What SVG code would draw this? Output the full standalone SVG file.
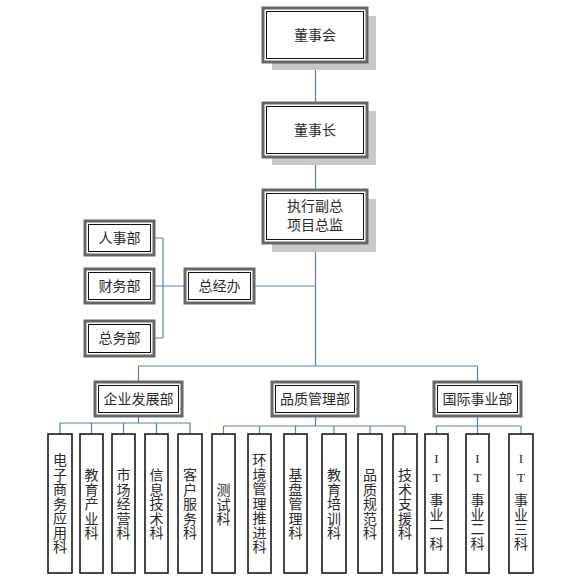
<svg xmlns="http://www.w3.org/2000/svg" width="584" height="586" viewBox="0 0 584 586">
<style>
.sh{fill:#c9c9c9;stroke:none}
.ob{fill:#fff;stroke:#666;stroke-width:3}
.ib{fill:none;stroke:#111;stroke-width:1}
.sb{fill:#fff;stroke:#1a1a1a;stroke-width:1.6}
.t{font-family:"Noto Sans CJK SC","Noto Sans",sans-serif;font-size:14px;fill:#2a2a2a;text-anchor:middle}
.l{font-family:"Liberation Serif",serif;font-size:13px;fill:#2a2a2a;text-anchor:middle}
.c{fill:none;stroke:#4F81BD;stroke-width:1.2}
</style>
<rect width="584" height="586" fill="#fff"/>
<g id="connectors">
<path class="c" d="M315.5 62V103M315.5 157V190M315.5 243V366"/>
<path class="c" d="M154 238H163M154 286H163M154 338H163M163 238V338M163 286H185M254 286H315.5"/>
<path class="c" d="M138.5 366H477.5M138.5 366V382M477.5 366V382"/>
<path class="c" d="M138.5 416V423M60 423H190M60 423V434M91.5 423V434M123.5 423V434M156.5 423V434M190 423V434"/>
<path class="c" d="M315.5 416V426M223.5 426H405M223.5 426V434M259.5 426V434M295.5 426V434M334 426V434M370 426V434M405 426V434"/>
<path class="c" d="M477.5 416V434M436.5 426H521M436.5 426V434M521 426V434"/>
</g>
<g id="dongshihui">
<rect class="sh" x="272" y="16" width="104" height="54"/>
<rect class="ob" x="263" y="8" width="104" height="54"/>
<rect class="ib" x="266.5" y="11.5" width="97" height="47"/>
<text class="t" x="315" y="40">董事会</text>
</g>
<g id="dongshizhang">
<rect class="sh" x="272" y="111" width="104" height="54"/>
<rect class="ob" x="263" y="103" width="104" height="54"/>
<rect class="ib" x="266.5" y="106.5" width="97" height="47"/>
<text class="t" x="315" y="135">董事长</text>
</g>
<g id="zhixing">
<rect class="sh" x="272" y="199" width="104" height="53"/>
<rect class="ob" x="263" y="190" width="104" height="53"/>
<rect class="ib" x="266.5" y="193.5" width="97" height="46"/>
<text class="t" x="315" y="211">执行副总</text>
<text class="t" x="315" y="230">项目总监</text>
</g>
<g id="renshibu">
<rect class="ob" x="85" y="221" width="69" height="34"/>
<rect class="ib" x="88.5" y="224.5" width="62" height="27"/>
<text class="t" x="119.5" y="243">人事部</text>
</g>
<g id="caiwubu">
<rect class="ob" x="85" y="269" width="69" height="34"/>
<rect class="ib" x="88.5" y="272.5" width="62" height="27"/>
<text class="t" x="119.5" y="291">财务部</text>
</g>
<g id="zongwubu">
<rect class="ob" x="85" y="321" width="69" height="35"/>
<rect class="ib" x="88.5" y="324.5" width="62" height="28"/>
<text class="t" x="119.5" y="343">总务部</text>
</g>
<g id="zongjingban">
<rect class="ob" x="185" y="269" width="69" height="34"/>
<rect class="ib" x="188.5" y="272.5" width="62" height="27"/>
<text class="t" x="219.5" y="291">总经办</text>
</g>
<g id="qiye">
<rect class="ob" x="95" y="382" width="87" height="34"/>
<rect class="ib" x="98.5" y="385.5" width="80" height="27"/>
<text class="t" x="138.5" y="404">企业发展部</text>
</g>
<g id="pinzhi">
<rect class="ob" x="272" y="382" width="86" height="34"/>
<rect class="ib" x="275.5" y="385.5" width="79" height="27"/>
<text class="t" x="315" y="404">品质管理部</text>
</g>
<g id="guoji">
<rect class="ob" x="434" y="382" width="87" height="34"/>
<rect class="ib" x="437.5" y="385.5" width="80" height="27"/>
<text class="t" x="477.5" y="404">国际事业部</text>
</g>
<g id="s1"><rect class="sb" x="48" y="434" width="24" height="139"/>
<text class="t" x="60" y="465">电</text><text class="t" x="60" y="479.5">子</text><text class="t" x="60" y="494">商</text><text class="t" x="60" y="508.5">务</text><text class="t" x="60" y="523">应</text><text class="t" x="60" y="537.5">用</text><text class="t" x="60" y="552">科</text></g>
<g id="s2"><rect class="sb" x="80" y="434" width="23" height="139"/>
<text class="t" x="91.5" y="480">教</text><text class="t" x="91.5" y="494.5">育</text><text class="t" x="91.5" y="509">产</text><text class="t" x="91.5" y="523.5">业</text><text class="t" x="91.5" y="538">科</text></g>
<g id="s3"><rect class="sb" x="112" y="434" width="23" height="139"/>
<text class="t" x="123.5" y="480">市</text><text class="t" x="123.5" y="494.5">场</text><text class="t" x="123.5" y="509">经</text><text class="t" x="123.5" y="523.5">营</text><text class="t" x="123.5" y="538">科</text></g>
<g id="s4"><rect class="sb" x="145" y="434" width="23" height="139"/>
<text class="t" x="156.5" y="480">信</text><text class="t" x="156.5" y="494.5">息</text><text class="t" x="156.5" y="509">技</text><text class="t" x="156.5" y="523.5">术</text><text class="t" x="156.5" y="538">科</text></g>
<g id="s5"><rect class="sb" x="178" y="434" width="24" height="139"/>
<text class="t" x="190" y="480">客</text><text class="t" x="190" y="494.5">户</text><text class="t" x="190" y="509">服</text><text class="t" x="190" y="523.5">务</text><text class="t" x="190" y="538">科</text></g>
<g id="s6"><rect class="sb" x="212" y="434" width="23" height="139"/>
<text class="t" x="223.5" y="495">测</text><text class="t" x="223.5" y="509.5">试</text><text class="t" x="223.5" y="524">科</text></g>
<g id="s7"><rect class="sb" x="248" y="434" width="23" height="139"/>
<text class="t" x="259.5" y="465">环</text><text class="t" x="259.5" y="479.5">境</text><text class="t" x="259.5" y="494">管</text><text class="t" x="259.5" y="508.5">理</text><text class="t" x="259.5" y="523">推</text><text class="t" x="259.5" y="537.5">进</text><text class="t" x="259.5" y="552">科</text></g>
<g id="s8"><rect class="sb" x="284" y="434" width="23" height="139"/>
<text class="t" x="295.5" y="480">基</text><text class="t" x="295.5" y="494.5">盘</text><text class="t" x="295.5" y="509">管</text><text class="t" x="295.5" y="523.5">理</text><text class="t" x="295.5" y="538">科</text></g>
<g id="s9"><rect class="sb" x="322" y="434" width="24" height="139"/>
<text class="t" x="334" y="480">教</text><text class="t" x="334" y="494.5">育</text><text class="t" x="334" y="509">培</text><text class="t" x="334" y="523.5">训</text><text class="t" x="334" y="538">科</text></g>
<g id="s10"><rect class="sb" x="358" y="434" width="24" height="139"/>
<text class="t" x="370" y="480">品</text><text class="t" x="370" y="494.5">质</text><text class="t" x="370" y="509">规</text><text class="t" x="370" y="523.5">范</text><text class="t" x="370" y="538">科</text></g>
<g id="s11"><rect class="sb" x="393" y="434" width="24" height="139"/>
<text class="t" x="405" y="480">技</text><text class="t" x="405" y="494.5">术</text><text class="t" x="405" y="509">支</text><text class="t" x="405" y="523.5">援</text><text class="t" x="405" y="538">科</text></g>
<g id="s12"><rect class="sb" x="425" y="434" width="23" height="139"/>
<text class="l" x="436.5" y="463">I</text><text class="l" x="436.5" y="482">T</text>
<text class="t" x="436.5" y="505">事</text><text class="t" x="436.5" y="519.5">业</text><text class="t" x="436.5" y="534">一</text><text class="t" x="436.5" y="548.5">科</text></g>
<g id="s13"><rect class="sb" x="466" y="434" width="23" height="139"/>
<text class="l" x="477.5" y="463">I</text><text class="l" x="477.5" y="482">T</text>
<text class="t" x="477.5" y="505">事</text><text class="t" x="477.5" y="519.5">业</text><text class="t" x="477.5" y="534">二</text><text class="t" x="477.5" y="548.5">科</text></g>
<g id="s14"><rect class="sb" x="509" y="434" width="24" height="139"/>
<text class="l" x="521" y="463">I</text><text class="l" x="521" y="482">T</text>
<text class="t" x="521" y="505">事</text><text class="t" x="521" y="519.5">业</text><text class="t" x="521" y="534">三</text><text class="t" x="521" y="548.5">科</text></g>
</svg>
